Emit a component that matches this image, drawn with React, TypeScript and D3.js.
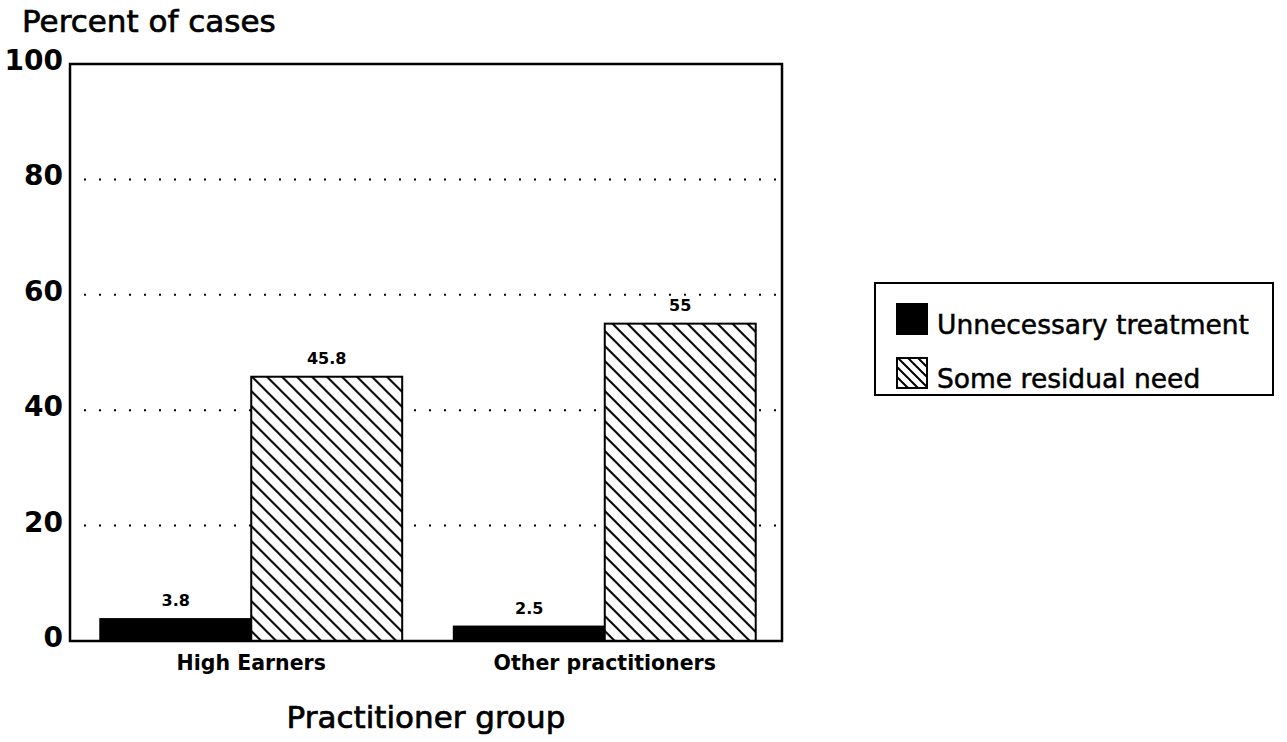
import React from "react";
import * as d3 from "d3";

const groups = ["High Earners", "Other practitioners"];
const seriesNames = ["Unnecessary treatment", "Some residual need"];
const unnecessary = [3.8, 2.5];
const residual = [45.8, 55];
const yTicks = [0, 20, 40, 60, 80, 100];
const gridTicks = [20, 40, 60, 80];

const W = 1287;
const H = 742;
const FONT = "'DejaVu Sans', sans-serif";

export default function App() {
  const left = 70, right = 782, top = 64, bottom = 641;
  const y = d3.scaleLinear().domain([0, 100]).range([bottom, top]);
  const x0 = d3.scaleBand<string>().domain(groups).range([72, 784]).paddingInner(0.146).paddingOuter(0.08);
  const x1 = d3.scaleBand<string>().domain(seriesNames).range([0, x0.bandwidth()]).padding(0);
  const values = [unnecessary, residual];
  const fills = ["#000", "url(#hatch)"];
  const heavy = { stroke: "#000", strokeWidth: 0.7 } as const;

  return (
    <svg width={W} height={H} style={{ position: "absolute", left: 0, top: 0, background: "#fff" }} fontFamily={FONT}>
      <defs>
        <pattern id="hatch" patternUnits="userSpaceOnUse" width={15} height={15}>
          <rect width={15} height={15} fill="#fff" />
          <path d="M-4,-4 L19,19 M-4,11 L4,19 M11,-4 L19,4" stroke="#000" strokeWidth={2} />
        </pattern>
        <pattern id="hatchL" patternUnits="userSpaceOnUse" width={10} height={10}>
          <rect width={10} height={10} fill="#fff" />
          <path d="M-3,-3 L13,13 M-3,7 L3,13 M7,-3 L13,3" stroke="#000" strokeWidth={2} />
        </pattern>
      </defs>
      <rect width={W} height={H} fill="#fff" />
      {/* title */}
      <text x={22} y={32} fontSize={31} fill="#000" {...heavy}>Percent of cases</text>
      {/* gridlines */}
      {gridTicks.map((t) => (
        <line key={t} x1={left + 14} x2={right} y1={y(t)} y2={y(t)} stroke="#000" strokeWidth={2} strokeDasharray="2,13" />
      ))}
      {/* bars */}
      {groups.map((g, gi) => (
        <g key={g} transform={`translate(${x0(g)},0)`}>
          {seriesNames.map((s, si) => {
            const v = values[si][gi];
            const bx = x1(s)!;
            return (
              <g key={s}>
                <rect x={bx} y={y(v)} width={x1.bandwidth()} height={y(0) - y(v)} fill={fills[si]} stroke="#000" strokeWidth={2} />
                <text x={bx + x1.bandwidth() / 2} y={y(v) - 13} textAnchor="middle" fontSize={16} fontWeight="bold" fill="#000">{String(v)}</text>
              </g>
            );
          })}
          <text x={x0.bandwidth() / 2} y={670} textAnchor="middle" fontSize={20.5} fontWeight="bold" fill="#000">{g}</text>
        </g>
      ))}
      {/* frame */}
      <rect x={left} y={top} width={right - left} height={bottom - top} fill="none" stroke="#000" strokeWidth={2.5} />
      {/* y ticks */}
      {yTicks.map((t) => (
        <text key={t} x={63} y={y(t) + 6} textAnchor="end" fontSize={28} fontWeight="bold" fill="#000">{String(t)}</text>
      ))}
      {/* x title */}
      <text x={426} y={728} textAnchor="middle" fontSize={31} fill="#000" {...heavy}>Practitioner group</text>
      {/* legend */}
      <rect x={875} y={283} width={398} height={112} fill="#fff" stroke="#000" strokeWidth={2} />
      {seriesNames.map((s, i) => (
        <g key={s}>
          <rect x={897} y={i === 0 ? 304 : 358} width={30} height={30} fill={i === 0 ? "#000" : "url(#hatchL)"} stroke="#000" strokeWidth={2} />
          <text x={937} y={i === 0 ? 334 : 388} fontSize={26.5} fill="#000" stroke="#000" strokeWidth={0.5}>{s}</text>
        </g>
      ))}
    </svg>
  );
}
